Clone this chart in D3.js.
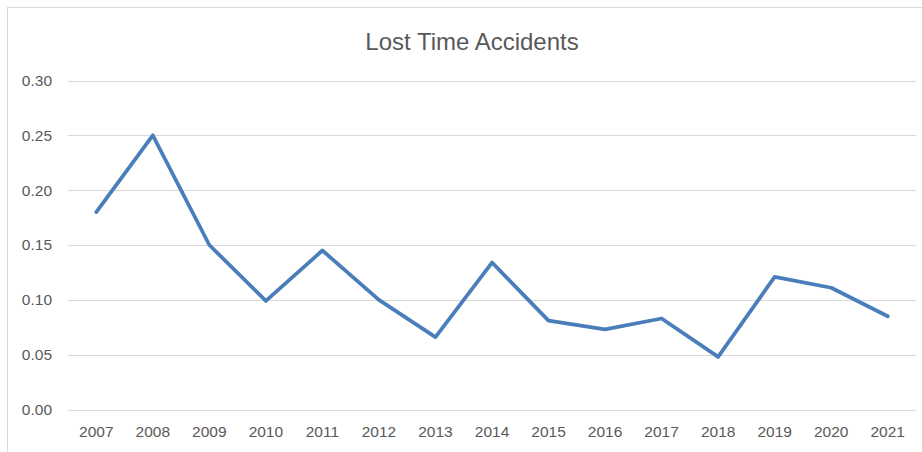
<!DOCTYPE html>
<html lang="en">
<head>
<meta charset="utf-8">
<title>Lost Time Accidents</title>
<script src="https://cdn.jsdelivr.net/npm/d3@7"></script>
<style>
  body { margin: 0; background: #fff; }
  svg text { font-family: "Liberation Sans", Arial, sans-serif; fill: #595959; }
</style>
</head>
<body>
<svg id="chart" width="922" height="452"></svg>
<script>
// chart data
var years = ["2007", "2008", "2009", "2010", "2011", "2012", "2013", "2014",
             "2015", "2016", "2017", "2018", "2019", "2020", "2021"];
var rates = [0.180, 0.250, 0.150, 0.099, 0.145, 0.100, 0.066, 0.134,
             0.081, 0.073, 0.083, 0.048, 0.121, 0.111, 0.085];
var yTicks = [0, 0.05, 0.10, 0.15, 0.20, 0.25, 0.30];

var svg = d3.select("#chart");
// plot area edges (note: "top" is taken by window.top)
var plotL = 68, plotR = 916, plotT = 80.5, plotB = 409.5;

// chart area frame (runs off right / bottom edge)
svg.append("rect")
   .attr("x", 7.5).attr("y", 7.5)
   .attr("width", 940).attr("height", 470)
   .attr("fill", "none")
   .attr("stroke", "#d9d9d9");

var x = d3.scaleBand().domain(years).range([plotL, plotR]);
var y = d3.scaleLinear().domain([0, 0.30]).range([plotB, plotT]);

// gridlines
svg.append("g").selectAll("line")
   .data(yTicks)
   .enter()
   .append("line")
   .attr("x1", plotL).attr("x2", plotR)
   .attr("y1", function(d) { return Math.round(y(d)) + 0.5; })
   .attr("y2", function(d) { return Math.round(y(d)) + 0.5; })
   .attr("stroke", "#d9d9d9")
   .attr("stroke-width", 1);

// y axis labels
var yAxis = d3.axisLeft(y).tickValues(yTicks).tickFormat(d3.format(".2f")).tickSize(0).tickPadding(0);
var gy = svg.append("g").attr("transform", "translate(52,0)").call(yAxis);
gy.select(".domain").remove();
gy.selectAll("text").style("font-size", "15.5px").attr("fill", "#595959");

// x axis labels
var xAxis = d3.axisBottom(x).tickSize(0).tickPadding(0);
var gx = svg.append("g").attr("transform", "translate(0,426)").call(xAxis);
gx.select(".domain").remove();
gx.selectAll("text").style("font-size", "15.5px").attr("fill", "#595959").attr("dy", "0.71em");

// the line
var line = d3.line()
   .x(function(d, i) { return x(years[i]) + x.bandwidth() / 2; })
   .y(function(d) { return y(d); });

svg.append("path")
   .datum(rates)
   .attr("d", line)
   .attr("fill", "none")
   .attr("stroke", "#4a7ebb")
   .attr("stroke-width", 3.75)
   .attr("stroke-linejoin", "round")
   .attr("stroke-linecap", "round");

// title
svg.append("text")
   .attr("x", 472)
   .attr("y", 50)
   .attr("text-anchor", "middle")
   .style("font-size", "24px")
   .text("Lost Time Accidents");
</script>
</body>
</html>
